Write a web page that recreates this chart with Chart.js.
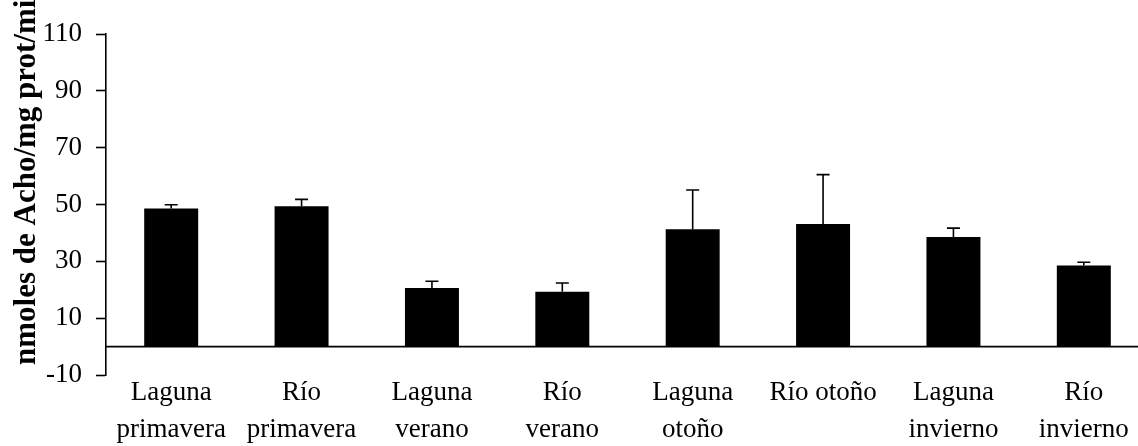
<!DOCTYPE html>
<html>
<head>
<meta charset="utf-8">
<script src="https://cdn.jsdelivr.net/npm/chart.js@4/dist/chart.umd.min.js"></script>
<style>
  html, body { margin: 0; padding: 0; background: #fff; overflow: hidden; }
  #wrap { width: 1149px; height: 446px; position: relative; }
</style>
</head>
<body>
<div id="wrap"><canvas id="c"></canvas></div>
<script>
const categories = [
  ["Laguna", "primavera"],
  ["Río", "primavera"],
  ["Laguna", "verano"],
  ["Río", "verano"],
  ["Laguna", "otoño"],
  "Río otoño",
  ["Laguna", "invierno"],
  ["Río", "invierno"]
];
const values = [48.6, 49.4, 20.6, 19.3, 41.3, 43.1, 38.6, 28.5];
const errors = [1.3, 2.4, 2.4, 3.1, 13.8, 17.4, 3.1, 1.2];
const yTicks = [-10, 10, 30, 50, 70, 90, 110];
const yTitle = "nmoles de Acho/mg prot/min";

Chart.defaults.font.family = "'Liberation Serif', 'Times New Roman', serif";
Chart.defaults.color = "#000";

const zeroLine = {
  id: 'zeroLine',
  afterDatasetsDraw(chart) {
    const { ctx, chartArea, scales } = chart;
    const y = scales.y.getPixelForValue(0);
    ctx.save();
    ctx.strokeStyle = '#000';
    ctx.lineWidth = 1.6;
    ctx.beginPath();
    ctx.moveTo(chartArea.left, y);
    ctx.lineTo(chart.width, y);
    ctx.stroke();
    ctx.restore();
  }
};

const errorBars = {
  id: 'errorBars',
  afterDatasetsDraw(chart) {
    const { ctx, scales } = chart;
    const meta = chart.getDatasetMeta(0);
    ctx.save();
    ctx.strokeStyle = '#000';
    ctx.lineWidth = 1.6;
    meta.data.forEach((bar, i) => {
      const x = bar.x;
      const yTop = scales.y.getPixelForValue(values[i]);
      const yErr = scales.y.getPixelForValue(values[i] + errors[i]);
      ctx.beginPath();
      ctx.moveTo(x, yTop);
      ctx.lineTo(x, yErr);
      ctx.moveTo(x - 6.5, yErr);
      ctx.lineTo(x + 6.5, yErr);
      ctx.stroke();
    });
    ctx.restore();
  }
};

const yTitlePlugin = {
  id: 'yTitlePlugin',
  afterDraw(chart) {
    const { ctx, chartArea } = chart;
    ctx.save();
    ctx.fillStyle = '#000';
    ctx.font = "bold 31px 'Liberation Serif', 'Times New Roman', serif";
    ctx.textAlign = 'left';
    ctx.textBaseline = 'alphabetic';
    ctx.translate(35, chartArea.bottom - 10);
    ctx.rotate(-Math.PI / 2);
    ctx.fillText(yTitle, 0, 0);
    ctx.restore();
  }
};

new Chart(document.getElementById('c'), {
  type: 'bar',
  data: {
    labels: categories,
    datasets: [{
      data: values,
      backgroundColor: '#000',
      borderColor: '#000',
      borderWidth: 0,
      barPercentage: 0.414,
      categoryPercentage: 1.0
    }]
  },
  options: {
    responsive: true,
    maintainAspectRatio: false,
    animation: false,
    layout: { padding: { top: 34, right: 0, left: 0, bottom: 0 } },
    plugins: {
      legend: { display: false },
      tooltip: { enabled: false },
      title: { display: false }
    },
    scales: {
      x: {
        type: 'category',
        grid: { display: false, drawTicks: false },
        border: { display: false },
        ticks: {
          font: { size: 27, lineHeight: 1.35 },
          color: '#000',
          padding: 0,
          maxRotation: 0,
          autoSkip: false
        },
        afterFit(scale) { scale.height = 71; }
      },
      y: {
        min: -10,
        max: 110,
        afterBuildTicks(scale) {
          scale.ticks = yTicks.map(v => ({ value: v }));
        },
        grid: {
          display: true,
          drawOnChartArea: false,
          drawTicks: true,
          tickLength: 10,
          tickColor: '#000',
          tickWidth: 1.6
        },
        border: { display: true, color: '#000', width: 1.6 },
        ticks: {
          font: { size: 27 },
          color: '#000',
          padding: 14
        },
        afterFit(scale) { scale.width = 106; }
      }
    }
  },
  plugins: [zeroLine, errorBars, yTitlePlugin]
});
</script>
</body>
</html>
